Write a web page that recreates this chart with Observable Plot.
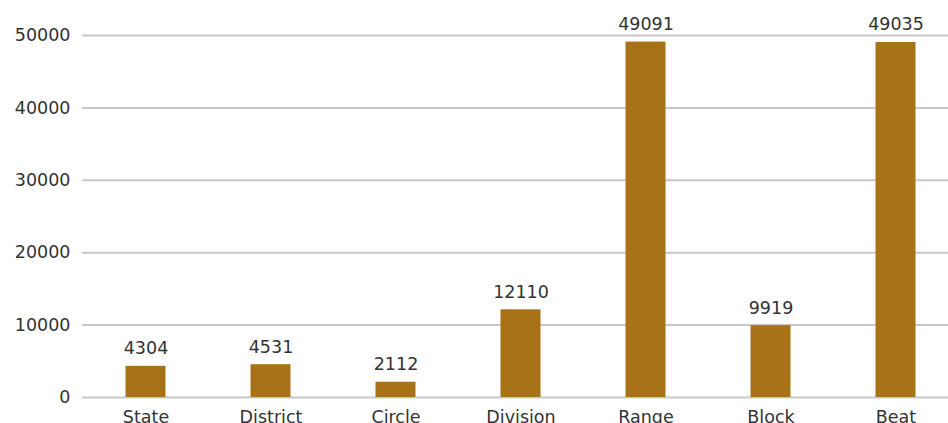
<!DOCTYPE html>
<html>
<head>
<meta charset="utf-8">
<script src="https://cdn.jsdelivr.net/npm/d3@7"></script>
<script src="https://cdn.jsdelivr.net/npm/@observablehq/plot@0.6"></script>
<style>
  html, body { margin: 0; padding: 0; background: #fff; overflow: hidden; }
  #chart svg { display: block; }
</style>
</head>
<body>
<div id="chart"></div>
<script>
const categories = ["State", "District", "Circle", "Division", "Range", "Block", "Beat"];
const values = [4304, 4531, 2112, 12110, 49091, 9919, 49035];
const yTicks = [0, 10000, 20000, 30000, 40000, 50000];

const data = categories.map((c, i) => ({category: c, value: values[i]}));
const font = "'DejaVu Sans', sans-serif";

const chart = Plot.plot({
  width: 948,
  height: 423,
  marginLeft: 82,
  marginRight: -10,
  marginTop: 35,
  marginBottom: 26,
  style: {fontFamily: font, fontSize: "17.5px", color: "#333", background: "#fff"},
  x: {domain: categories, padding: 0, label: null},
  y: {domain: [0, 50000], label: null},
  marks: [
    Plot.ruleY(yTicks, {stroke: "#c8c8c8", strokeWidth: 2}),
    Plot.barY(data, {x: "category", y: "value", fill: "#a87219", insetLeft: 42.5, insetRight: 42.5}),
    Plot.text(data, {x: "category", y: "value", text: d => String(d.value), lineAnchor: "bottom", dy: -12, fill: "#333", fontSize: 17.5}),
    Plot.axisY({ticks: yTicks, tickSize: 0, tickPadding: 12, tickFormat: d => String(d), fill: "#333", fontSize: 17.5}),
    Plot.axisX({tickSize: 0, tickPadding: 13, fill: "#333", fontSize: 17.5})
  ]
});
document.getElementById("chart").append(chart);
</script>
</body>
</html>
